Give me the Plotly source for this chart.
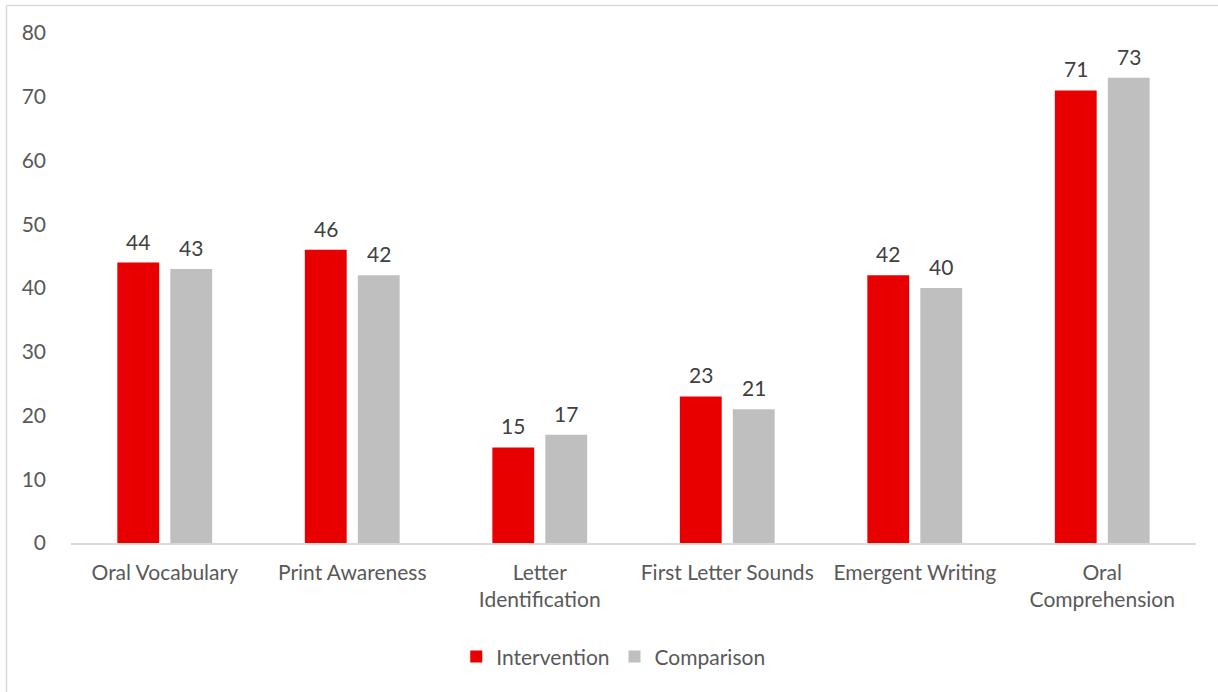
import plotly.graph_objects as go

categories = ["Oral Vocabulary", "Print Awareness", "Letter<br>Identification",
              "First Letter Sounds", "Emergent Writing", "Oral<br>Comprehension"]
intervention = [44, 46, 15, 23, 42, 71]
comparison = [43, 42, 17, 21, 40, 73]
tick_vals = [0, 10, 20, 30, 40, 50, 60, 70, 80]

FONT = "Lato"
FS = 21
fig = go.Figure()
fig.add_trace(go.Bar(name="Intervention", x=categories, y=intervention,
                     marker=dict(color="#E80000", line=dict(width=0))))
fig.add_trace(go.Bar(name="Comparison", x=categories, y=comparison,
                     marker=dict(color="#BFBFBF", line=dict(width=0))))

# data labels above bars (offset to each bar of the group)
for vals, dx in ((intervention, -26.5), (comparison, 26.5)):
    for c, v in zip(categories, vals):
        fig.add_annotation(x=c, y=v, text=str(v), showarrow=False,
                           xanchor="center", yanchor="bottom", xshift=dx, yshift=7,
                           font=dict(color="#404040", size=FS, family=FONT))

W, H = 1218, 692
L, R, T, B = 71, 22, 33, 149
pw, ph = W - L - R, H - T - B

fig.update_layout(
    width=W, height=H,
    margin=dict(l=L, r=R, t=T, b=B, autoexpand=False),
    paper_bgcolor="white", plot_bgcolor="white",
    barmode="group", bargap=0.435, bargroupgap=0.21,
    font=dict(family=FONT, size=FS, color="#595959"),
    showlegend=True,
    legend=dict(orientation="h", x=0.482, xanchor="center", y=-0.223, yanchor="middle",
                font=dict(size=FS, color="#595959"), itemwidth=30,
                traceorder="normal"),
    xaxis=dict(showgrid=False, showline=True, linecolor="#D9D9D9", linewidth=1.5,
               ticks="", tickfont=dict(size=FS, color="#595959"), ticklabelstandoff=10,
               automargin=False),
    yaxis=dict(range=[0, 80], tickvals=tick_vals, showgrid=False, showline=False,
               zeroline=False, ticks="", tickfont=dict(size=FS, color="#595959"),
               ticklabelstandoff=24, automargin=False),
    shapes=[
        dict(type="line", xref="paper", yref="paper",
             x0=(6.5 - L) / pw, x1=(W + 5 - L) / pw,
             y0=(H - B - 5.5) / ph, y1=(H - B - 5.5) / ph,
             line=dict(color="#D9D9D9", width=1.5)),
        dict(type="line", xref="paper", yref="paper",
             x0=(6.5 - L) / pw, x1=(6.5 - L) / pw,
             y0=(H - B - 5.5) / ph, y1=-(B + 5) / ph,
             line=dict(color="#D9D9D9", width=1.5)),
    ],
)
fig.write_html("out.html")
